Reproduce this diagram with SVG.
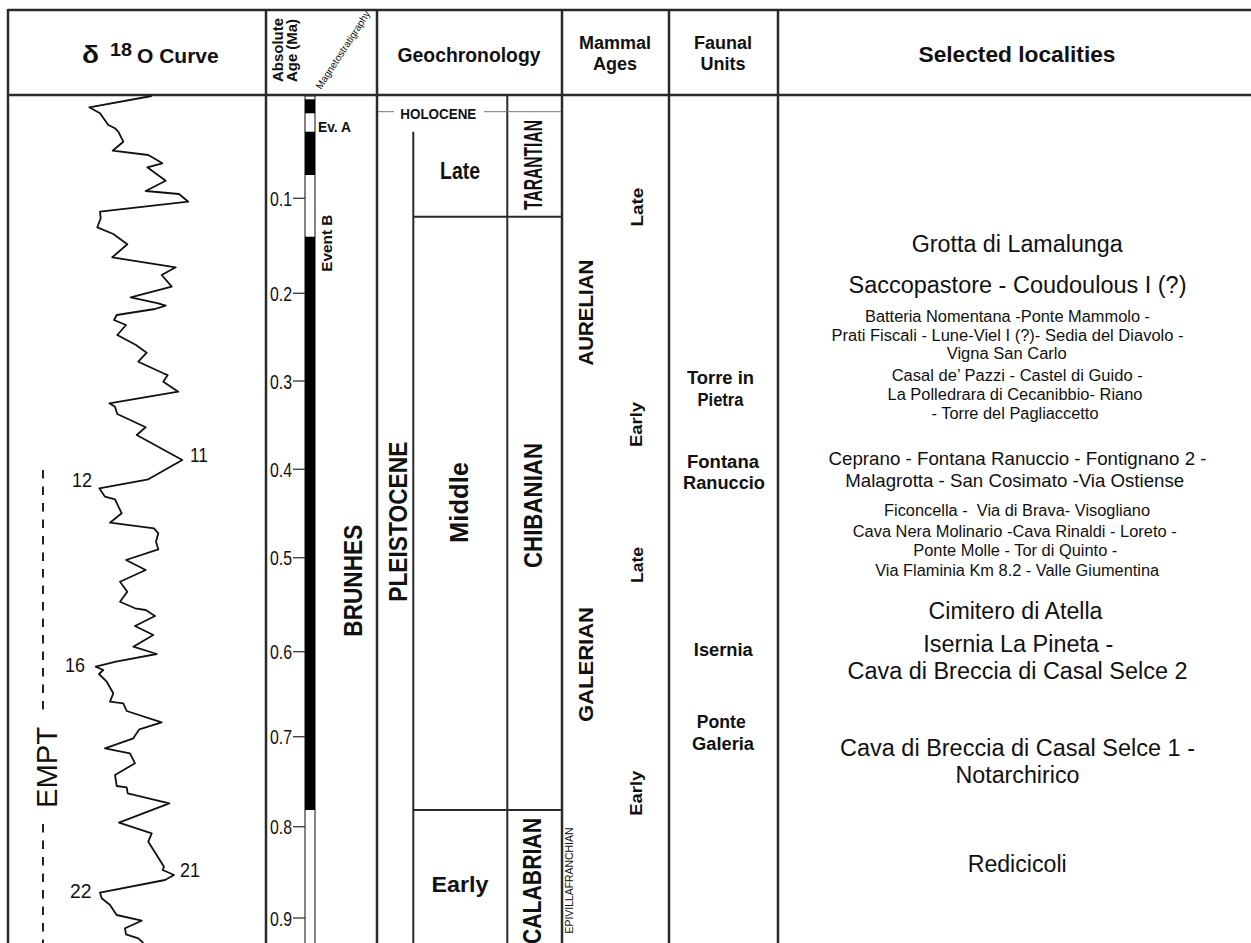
<svg xmlns="http://www.w3.org/2000/svg" width="1251" height="943" viewBox="0 0 1251 943">
<style>
text{fill:#111;font-family:"Liberation Sans",Arial,sans-serif}
.nb{font-family:"Liberation Sans Narrow","Liberation Sans",Arial,sans-serif;font-weight:bold}
.nr{font-family:"Liberation Sans Narrow","Liberation Sans",Arial,sans-serif}
.b{font-weight:bold}
.frame{stroke:#2a2a2a;stroke-width:2.5;fill:none}
.inner{stroke:#2a2a2a;stroke-width:2;fill:none}
.tick{stroke:#444;stroke-width:1.4}
.loc{text-anchor:middle}
.c{text-anchor:middle}
</style>
<rect width="1251" height="943" fill="#fff"/>
<g id="frame">
<line class="frame" x1="8" y1="10" x2="1251" y2="10" stroke-width="3"/>
<line class="frame" x1="8" y1="95" x2="1251" y2="95" stroke-width="3"/>
<line class="frame" x1="8" y1="9" x2="8" y2="943"/>
<line class="frame" x1="266" y1="9" x2="266" y2="943"/>
<line class="frame" x1="377" y1="9" x2="377" y2="943"/>
<line class="frame" x1="562" y1="9" x2="562" y2="943"/>
<line class="frame" x1="669" y1="9" x2="669" y2="943"/>
<line class="frame" x1="778" y1="9" x2="778" y2="943"/>
</g>
<g id="headers">
<text class="b" font-size="21" y="63"><tspan x="82" font-size="24" textLength="17" lengthAdjust="spacingAndGlyphs">δ</tspan><tspan x="110" y="55.5" font-size="18" textLength="22" lengthAdjust="spacingAndGlyphs">18</tspan><tspan x="137" y="63">O Curve</tspan></text>
<text class="b" font-size="15" transform="translate(283,82) rotate(-90)" textLength="64" lengthAdjust="spacingAndGlyphs">Absolute</text>
<text class="b" font-size="15" transform="translate(297,82) rotate(-90)" textLength="63" lengthAdjust="spacingAndGlyphs">Age (Ma)</text>
<text class="nr" font-size="10" transform="translate(321,90) rotate(-57)" textLength="91" lengthAdjust="spacingAndGlyphs">Magnetostratigraphy</text>
<text class="b c" font-size="21" x="469" y="62" textLength="143" lengthAdjust="spacingAndGlyphs">Geochronology</text>
<text class="b c" font-size="18" x="615" y="49">Mammal</text>
<text class="b c" font-size="18" x="615" y="70">Ages</text>
<text class="b c" font-size="18" x="723" y="49">Faunal</text>
<text class="b c" font-size="18" x="723" y="70">Units</text>
<text class="b c" font-size="22" x="1017" y="62" textLength="197" lengthAdjust="spacingAndGlyphs">Selected localities</text>
</g>
<g id="o18-curve">
<polyline fill="none" stroke="#111" stroke-width="1.8" stroke-linejoin="round" points="151.7,96 89.3,107.3 100,113.3 108.3,125 115,128.3 118.3,131.7 123.3,141.7 112.7,150.7 148.3,155 154,158.3 162.3,163.3 147.3,167.3 165.7,180.7 145.7,191 179,194 188.3,201.7 100,211.7 100.7,218.3 97.3,227.3 113.3,234 127.3,244.3 112.3,257.3 175.7,267.3 161.7,275 171.7,286.7 130.7,297.3 158.3,303.3 165.7,305.7 155,309 116.7,315 114,320 126,325 117.3,335 136,345 146.7,352.7 138.3,361.7 163.3,373.3 167.7,375 163.3,381.7 178.3,391.7 109.3,403.3 115,406.7 117.3,414 145.7,427.3 136.7,435 182.3,460 148.3,479.3 99.3,488.3 105,496.7 115,499.3 121.7,513.3 110,522.7 154,528.3 158.3,533.3 156,541.7 158.3,549.3 126,560 145.7,570 120,581.7 127.3,591.7 120,601.7 135,608.3 145.7,610 155,616 135,626 153.3,635 133.3,646.7 156.7,654 116,661.7 95.7,666.7 103.3,670 99,674 106.7,681.7 113.3,693.3 110,701.7 123.3,703.3 126.7,711 161.7,722.3 139.3,729.3 133.3,738.3 105,748.3 130,753.3 135,763.3 115,775 116.7,786 126.7,787.3 127.7,793.3 169.3,803.3 119,822.7 151.7,833.3 148.3,841.7 164,866.7 162.7,870 174,875 165,880 100,892.7 101.7,898.3 110,905 116.7,915 141.7,920.7 125,928.3 126,934.3 138.3,938.3 143.3,943"/>
<g class="nr" font-size="20">
<text x="190" y="461.5" textLength="18" lengthAdjust="spacingAndGlyphs">11</text>
<text x="72" y="486.5" textLength="20" lengthAdjust="spacingAndGlyphs">12</text>
<text x="65" y="671.5" textLength="20" lengthAdjust="spacingAndGlyphs">16</text>
<text x="180" y="876.5" textLength="20" lengthAdjust="spacingAndGlyphs">21</text>
<text x="70" y="898" textLength="21.5" lengthAdjust="spacingAndGlyphs">22</text>
</g>
<line x1="43" y1="470" x2="43" y2="714" stroke="#222" stroke-width="2" stroke-dasharray="8.5 8"/>
<line x1="43" y1="824" x2="43" y2="943" stroke="#222" stroke-width="2" stroke-dasharray="8.5 8"/>
<text font-size="29" transform="translate(56.5,808) rotate(-90)" textLength="81" lengthAdjust="spacingAndGlyphs">EMPT</text>
</g>
<g id="absolute-age">
<g class="tick">
<line x1="293" y1="198.3" x2="305" y2="198.3"/>
<line x1="293" y1="293.3" x2="305" y2="293.3"/>
<line x1="293" y1="381" x2="305" y2="381"/>
<line x1="293" y1="469.3" x2="305" y2="469.3"/>
<line x1="293" y1="557.7" x2="305" y2="557.7"/>
<line x1="293" y1="651.7" x2="305" y2="651.7"/>
<line x1="293" y1="736.7" x2="305" y2="736.7"/>
<line x1="293" y1="826.7" x2="305" y2="826.7"/>
<line x1="293" y1="918" x2="305" y2="918"/>
</g>
<g class="nr" font-size="20" fill="#222">
<text x="270" y="206" textLength="22" lengthAdjust="spacingAndGlyphs">0.1</text>
<text x="270" y="301" textLength="22" lengthAdjust="spacingAndGlyphs">0.2</text>
<text x="270" y="388.5" textLength="22" lengthAdjust="spacingAndGlyphs">0.3</text>
<text x="270" y="477" textLength="22" lengthAdjust="spacingAndGlyphs">0.4</text>
<text x="270" y="565" textLength="22" lengthAdjust="spacingAndGlyphs">0.5</text>
<text x="270" y="659" textLength="22" lengthAdjust="spacingAndGlyphs">0.6</text>
<text x="270" y="744" textLength="22" lengthAdjust="spacingAndGlyphs">0.7</text>
<text x="270" y="834" textLength="22" lengthAdjust="spacingAndGlyphs">0.8</text>
<text x="270" y="925.5" textLength="22" lengthAdjust="spacingAndGlyphs">0.9</text>
</g>
</g>
<g id="magnetostratigraphy">
<rect x="305" y="96" width="10" height="850" fill="#fff" stroke="#333" stroke-width="1.2"/>
<rect x="305" y="99.3" width="10" height="14" fill="#000"/>
<rect x="305" y="131.7" width="10" height="43.3" fill="#000"/>
<rect x="305" y="236.7" width="10" height="573.3" fill="#000"/>
<text class="b" font-size="14" x="318" y="131.5" textLength="33" lengthAdjust="spacingAndGlyphs">Ev. A</text>
<text class="b" font-size="14" transform="translate(331.5,271.7) rotate(-90)" textLength="57" lengthAdjust="spacingAndGlyphs">Event B</text>
<text class="nb" font-size="25" transform="translate(361.5,636.7) rotate(-90)" textLength="112" lengthAdjust="spacingAndGlyphs">BRUNHES</text>
</g>
<g id="geochronology">
<line class="inner" x1="413.3" y1="131.7" x2="413.3" y2="943"/>
<line class="inner" x1="507.3" y1="95" x2="507.3" y2="943"/>
<line class="inner" x1="413.3" y1="216.7" x2="562" y2="216.7"/>
<line class="inner" x1="413.3" y1="810" x2="562" y2="810"/>
<line x1="378" y1="111.7" x2="394" y2="111.7" stroke="#777" stroke-width="1"/>
<line x1="484" y1="111.7" x2="561" y2="111.7" stroke="#777" stroke-width="1"/>
<text class="b c" font-size="14" x="438.3" y="119.3" textLength="76" lengthAdjust="spacingAndGlyphs">HOLOCENE</text>
<text class="nb c" font-size="24" x="460" y="179.3" textLength="40" lengthAdjust="spacingAndGlyphs">Late</text>
<text class="b c" font-size="22" x="460" y="891.7" textLength="57" lengthAdjust="spacingAndGlyphs">Early</text>
<text class="nb" font-size="25" transform="translate(406.7,601.7) rotate(-90)" textLength="160" lengthAdjust="spacingAndGlyphs">PLEISTOCENE</text>
<text class="b" font-size="25" transform="translate(468.3,543) rotate(-90)" textLength="81" lengthAdjust="spacingAndGlyphs">Middle</text>
<text class="nb" font-size="25" transform="translate(541.5,210) rotate(-90)" textLength="90" lengthAdjust="spacingAndGlyphs">TARANTIAN</text>
<text class="nb" font-size="25" transform="translate(541.5,568) rotate(-90)" textLength="125" lengthAdjust="spacingAndGlyphs">CHIBANIAN</text>
<text class="nb" font-size="25" transform="translate(540.5,944) rotate(-90)" textLength="126" lengthAdjust="spacingAndGlyphs">CALABRIAN</text>
</g>
<g id="mammal-ages">
<text class="nb" font-size="21" transform="translate(593.3,365.6) rotate(-90)" textLength="106" lengthAdjust="spacingAndGlyphs">AURELIAN</text>
<text class="nb" font-size="21" transform="translate(593.3,722) rotate(-90)" textLength="115" lengthAdjust="spacingAndGlyphs">GALERIAN</text>
<text class="nb" font-size="17" transform="translate(643.3,226.6) rotate(-90)" textLength="39" lengthAdjust="spacingAndGlyphs">Late</text>
<text class="nb" font-size="17" transform="translate(642,447) rotate(-90)" textLength="45" lengthAdjust="spacingAndGlyphs">Early</text>
<text class="nb" font-size="17" transform="translate(643.3,583) rotate(-90)" textLength="36" lengthAdjust="spacingAndGlyphs">Late</text>
<text class="nb" font-size="17" transform="translate(642,815.7) rotate(-90)" textLength="45" lengthAdjust="spacingAndGlyphs">Early</text>
<text class="nr" font-size="10" transform="translate(573.3,933.5) rotate(-90)" textLength="106" lengthAdjust="spacingAndGlyphs">EPIVILLAFRANCHIAN</text>
</g>
<g id="faunal-units" class="b" font-size="18">
<text class="c" x="720.5" y="383.5" textLength="67" lengthAdjust="spacingAndGlyphs">Torre in</text>
<text class="c" x="720.5" y="405.5" textLength="46" lengthAdjust="spacingAndGlyphs">Pietra</text>
<text class="c" x="723" y="467.5" textLength="72" lengthAdjust="spacingAndGlyphs">Fontana</text>
<text class="c" x="724" y="489" textLength="82" lengthAdjust="spacingAndGlyphs">Ranuccio</text>
<text class="c" x="723.3" y="655.5" textLength="59" lengthAdjust="spacingAndGlyphs">Isernia</text>
<text class="c" x="721.3" y="727.5" textLength="49" lengthAdjust="spacingAndGlyphs">Ponte</text>
<text class="c" x="723" y="749.5" textLength="62" lengthAdjust="spacingAndGlyphs">Galeria</text>
</g>
<g id="localities">
<g font-size="23">
<text class="loc" x="1017.2" y="251.7" textLength="211" lengthAdjust="spacingAndGlyphs">Grotta di Lamalunga</text>
<text class="loc" x="1017.5" y="292.7" textLength="338" lengthAdjust="spacingAndGlyphs">Saccopastore - Coudoulous I (?)</text>
<text class="loc" x="1015.5" y="619.3" textLength="174" lengthAdjust="spacingAndGlyphs">Cimitero di Atella</text>
<text class="loc" x="1018.3" y="652" textLength="190" lengthAdjust="spacingAndGlyphs">Isernia La Pineta -</text>
<text class="loc" x="1017.5" y="679.3" textLength="340" lengthAdjust="spacingAndGlyphs">Cava di Breccia di Casal Selce 2</text>
<text class="loc" x="1017.5" y="755.7" textLength="355" lengthAdjust="spacingAndGlyphs">Cava di Breccia di Casal Selce 1 -</text>
<text class="loc" x="1017.5" y="783.3" textLength="124" lengthAdjust="spacingAndGlyphs">Notarchirico</text>
<text class="loc" x="1017.2" y="871.7" textLength="99" lengthAdjust="spacingAndGlyphs">Redicicoli</text>
</g>
<g font-size="19">
<text class="loc" x="1017.5" y="465" textLength="378" lengthAdjust="spacingAndGlyphs">Ceprano - Fontana Ranuccio - Fontignano 2 -</text>
<text class="loc" x="1014.7" y="487.3" textLength="339" lengthAdjust="spacingAndGlyphs">Malagrotta - San Cosimato -Via Ostiense</text>
</g>
<g font-size="16">
<text class="loc" x="1007.5" y="321.7" textLength="285" lengthAdjust="spacingAndGlyphs">Batteria Nomentana -Ponte Mammolo -</text>
<text class="loc" x="1007.5" y="340.7" textLength="352" lengthAdjust="spacingAndGlyphs">Prati Fiscali - Lune-Viel I (?)- Sedia del Diavolo -</text>
<text class="loc" x="1006.7" y="359.3" textLength="120" lengthAdjust="spacingAndGlyphs">Vigna San Carlo</text>
<text class="loc" x="1017.2" y="380.7" textLength="251" lengthAdjust="spacingAndGlyphs">Casal de’ Pazzi - Castel di Guido -</text>
<text class="loc" x="1015" y="400" textLength="255" lengthAdjust="spacingAndGlyphs">La Polledrara di Cecanibbio- Riano</text>
<text class="loc" x="1015" y="419.3" textLength="167" lengthAdjust="spacingAndGlyphs">- Torre del Pagliaccetto</text>
<text class="loc" x="1017" y="515.7" textLength="266" lengthAdjust="spacingAndGlyphs" xml:space="preserve">Ficoncella -  Via di Brava- Visogliano</text>
<text class="loc" x="1014.7" y="536.7" textLength="324" lengthAdjust="spacingAndGlyphs">Cava Nera Molinario -Cava Rinaldi - Loreto -</text>
<text class="loc" x="1015.3" y="556" textLength="204" lengthAdjust="spacingAndGlyphs">Ponte Molle - Tor di Quinto -</text>
<text class="loc" x="1017.2" y="575.7" textLength="284" lengthAdjust="spacingAndGlyphs">Via Flaminia Km 8.2 - Valle Giumentina</text>
</g>
</g>
</svg>
